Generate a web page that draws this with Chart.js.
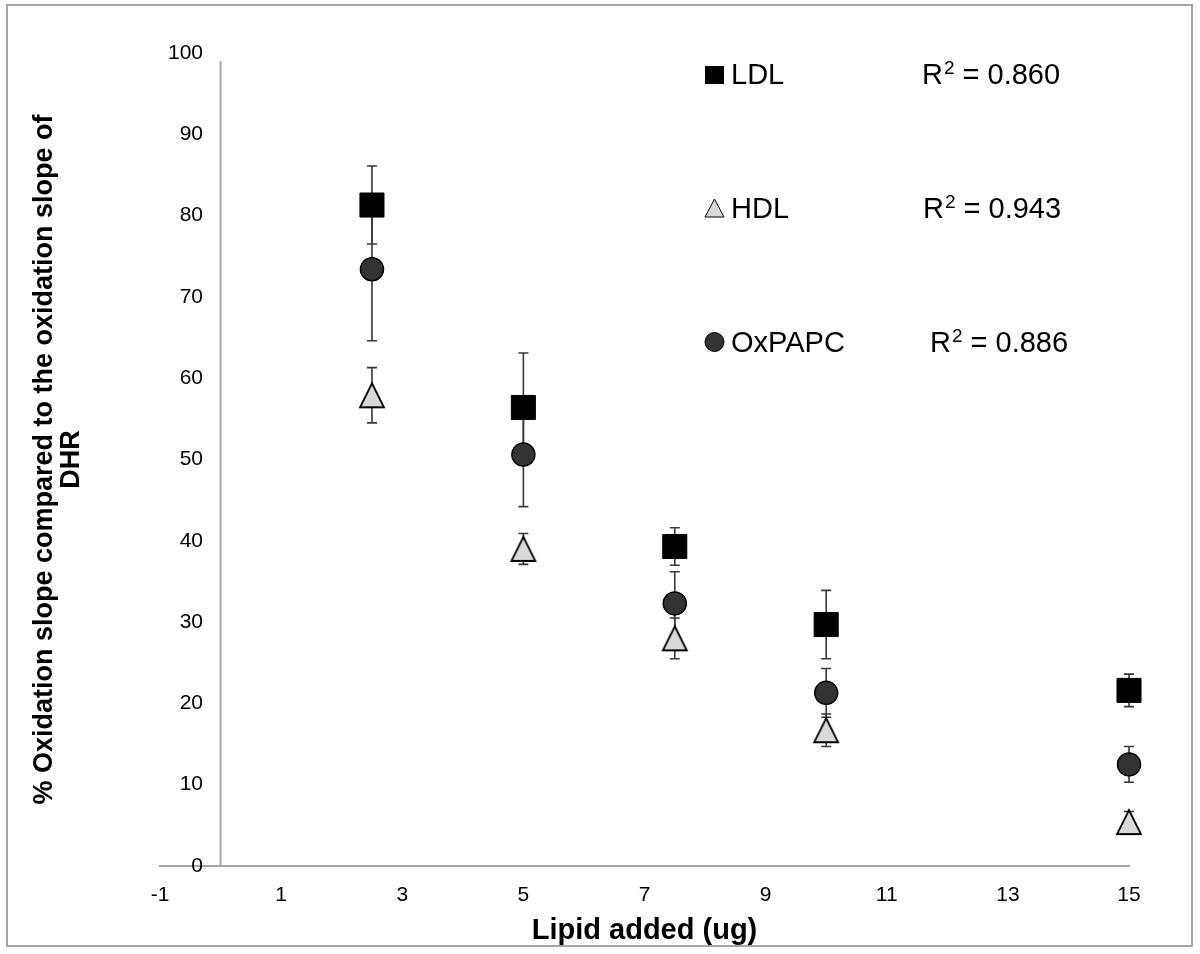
<!DOCTYPE html>
<html>
<head>
  <title>Oxidation slope vs lipid added</title>
  <script src="https://cdn.jsdelivr.net/npm/chart.js"></script>
  <style>
    body { margin: 0; background: #fff; overflow: hidden; }
  </style>
</head>
<body>
  <canvas id="chart" width="1200" height="954"></canvas>

  <script>
    // values (x in ug, y in % of DHR slope)
    const lipidAdded = [2.5, 5, 7.5, 10, 15];
    const ldlValues = [81.3, 56.4, 39.3, 29.7, 21.6];
    const ldlErrors = [4.8, 6.7, 2.3, 4.2, 2.0];
    const hdlValues = [57.9, 39.0, 28.0, 16.7, 5.4];
    const hdlErrors = [3.4, 1.9, 2.5, 2.0, 1.3];
    const oxpapcValues = [73.4, 50.6, 32.3, 21.3, 12.5];
    const oxpapcErrors = [8.8, 6.4, 3.9, 3.0, 2.2];

    const seriesNames = ['LDL', 'HDL', 'OxPAPC'];
    const rSquared = ['0.860', '0.943', '0.886'];

    const xMin = -1, xMax = 15, xStep = 2;
    const yMin = 0, yMax = 100, yStep = 10;

    const FONT = "'Liberation Sans', Arial, sans-serif";
    const AXIS_GREY = '#a6a6a6';
    Chart.defaults.font.family = FONT;
    Chart.defaults.color = '#000';

    function points(values) {
      return values.map((v, i) => ({ x: lipidAdded[i], y: v }));
    }

    // excel style triangle, centred in its box
    function triangleMarker(size, fill, lw) {
      const c = document.createElement('canvas');
      c.width = size + 4;
      c.height = size + 4;
      const g = c.getContext('2d');
      g.beginPath();
      g.moveTo(c.width / 2, 2);
      g.lineTo(c.width - 2, c.height - 2);
      g.lineTo(2, c.height - 2);
      g.closePath();
      g.fillStyle = fill;
      g.fill();
      g.lineWidth = lw;
      g.strokeStyle = '#000';
      g.stroke();
      return c;
    }

    const frame = {
      id: 'frame',
      beforeDraw(chart) {
        const ctx = chart.ctx;
        ctx.save();
        ctx.fillStyle = '#fff';
        ctx.fillRect(0, 0, chart.width, chart.height);
        ctx.strokeStyle = AXIS_GREY;
        ctx.lineWidth = 2;
        ctx.strokeRect(7, 5, 1185, 941);
        ctx.restore();
      }
    };

    const errorBars = {
      id: 'errorBars',
      beforeDatasetsDraw(chart) {
        const { ctx, chartArea, scales: { x, y } } = chart;
        ctx.save();
        // vertical axis line sits at x = 0
        const x0 = x.getPixelForValue(0);
        ctx.strokeStyle = AXIS_GREY;
        ctx.lineWidth = 2;
        ctx.beginPath();
        ctx.moveTo(x0, chartArea.top + 8);
        ctx.lineTo(x0, chartArea.bottom);
        ctx.stroke();

        ctx.strokeStyle = '#383838';
        ctx.lineWidth = 1.6;
        chart.data.datasets.forEach(ds => {
          ds.data.forEach((p, i) => {
            const e = ds.errors[i];
            const px = x.getPixelForValue(p.x);
            const top = y.getPixelForValue(p.y + e);
            const bot = y.getPixelForValue(p.y - e);
            ctx.beginPath();
            ctx.moveTo(px, top); ctx.lineTo(px, bot);
            ctx.moveTo(px - 5, top); ctx.lineTo(px + 5, top);
            ctx.moveTo(px - 5, bot); ctx.lineTo(px + 5, bot);
            ctx.stroke();
          });
        });
        ctx.restore();
      }
    };

    const legendBox = {
      id: 'legendBox',
      afterDraw(chart) {
        const ctx = chart.ctx;
        const rows = [84, 218, 352];
        const r2x = [922, 923, 930];
        ctx.save();
        ctx.lineWidth = 1;
        ctx.strokeStyle = '#000';
        // markers
        ctx.fillStyle = '#000';
        ctx.fillRect(705, rows[0] - 18, 19, 18);
        ctx.beginPath();
        ctx.moveTo(714.5, rows[1] - 19);
        ctx.lineTo(724, rows[1] - 1);
        ctx.lineTo(705, rows[1] - 1);
        ctx.closePath();
        ctx.fillStyle = '#d9d9d9';
        ctx.fill();
        ctx.stroke();
        ctx.beginPath();
        ctx.arc(714.5, rows[2] - 10, 9.5, 0, Math.PI * 2);
        ctx.fillStyle = '#333';
        ctx.fill();
        ctx.stroke();
        // labels
        ctx.fillStyle = '#000';
        ctx.textBaseline = 'alphabetic';
        seriesNames.forEach((name, i) => {
          ctx.font = '29px ' + FONT;
          ctx.fillText(name, 731, rows[i]);
          let px = r2x[i];
          ctx.fillText('R', px, rows[i]);
          px += ctx.measureText('R').width + 1;
          ctx.font = '19px ' + FONT;
          ctx.fillText('2', px, rows[i] - 10);
          px += ctx.measureText('2').width;
          ctx.font = '29px ' + FONT;
          ctx.fillText(' = ' + rSquared[i], px, rows[i]);
        });
        ctx.restore();
      }
    };

    const chart = new Chart(document.getElementById('chart').getContext('2d'), {
      type: 'scatter',
      data: {
        datasets: [
          {
            label: seriesNames[0],
            data: points(ldlValues),
            errors: ldlErrors,
            pointStyle: 'rect',
            pointRadius: 17,
            backgroundColor: '#000',
            borderColor: '#000',
            borderWidth: 1,
          },
          {
            label: seriesNames[1],
            data: points(hdlValues),
            errors: hdlErrors,
            pointStyle: triangleMarker(24, '#d9d9d9', 1.8),
            pointRadius: 12,
            backgroundColor: '#d9d9d9',
            borderColor: '#000',
          },
          {
            label: seriesNames[2],
            data: points(oxpapcValues),
            errors: oxpapcErrors,
            pointStyle: 'circle',
            pointRadius: 11.5,
            backgroundColor: '#333',
            borderColor: '#000',
            borderWidth: 1.5,
          },
        ],
      },
      options: {
        responsive: false,
        animation: false,
        clip: false,
        layout: { padding: { left: 0, right: 71, top: 53, bottom: 0 } },
        plugins: {
          legend: { display: false },
          tooltip: { enabled: false },
        },
        scales: {
          x: {
            type: 'linear',
            min: xMin,
            max: xMax,
            ticks: { stepSize: xStep, font: { size: 21 }, padding: 17 },
            grid: { display: false, drawTicks: false },
            border: { color: AXIS_GREY, width: 2 },
            title: {
              display: true,
              text: 'Lipid added (ug)',
              font: { size: 29, weight: 'bold', lineHeight: 1 },
              padding: { top: 0, bottom: 9 },
            },
            afterFit(s) { s.height = 88; },
          },
          y: {
            min: yMin,
            max: yMax,
            // labels sit inside the plot, right-aligned just left of x = 0
            ticks: { stepSize: yStep, font: { size: 21 }, mirror: true, crossAlign: 'far', padding: 8 },
            grid: { display: false, drawTicks: false },
            border: { display: false },
            title: {
              display: true,
              text: ['% Oxidation slope compared to the oxidation slope of', 'DHR'],
              font: { size: 27, weight: 'bold', lineHeight: 1 },
              padding: { top: 31, bottom: 0 },
            },
            afterFit(s) { s.width = 160; },
          },
        },
      },
      plugins: [frame, errorBars, legendBox],
    });
  </script>
</body>
</html>
